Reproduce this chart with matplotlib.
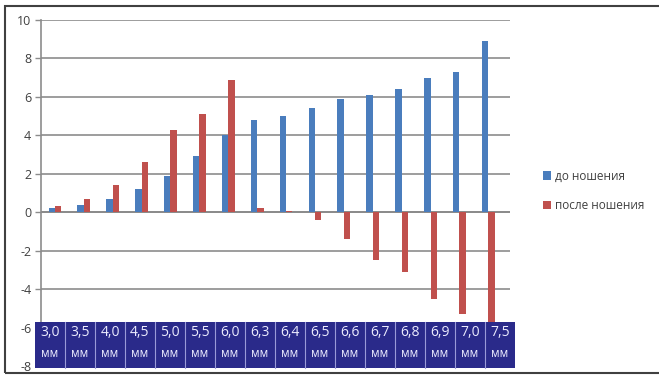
import numpy as np
import matplotlib
matplotlib.use('Agg')
import matplotlib.pyplot as plt
from matplotlib.patches import Rectangle

plt.rcParams['font.family'] = ['Open Sans', 'DejaVu Sans']
plt.rcParams['axes.unicode_minus'] = False

sizes = ['3,0', '3,5', '4,0', '4,5', '5,0', '5,5', '6,0', '6,3',
         '6,4', '6,5', '6,6', '6,7', '6,8', '6,9', '7,0', '7,5']
unit = 'мм'
before = [0.2, 0.4, 0.7, 1.2, 1.9, 2.9, 4.0, 4.8,
          5.0, 5.4, 5.9, 6.1, 6.4, 7.0, 7.3, 8.9]
after = [0.3, 0.7, 1.4, 2.6, 4.3, 5.1, 6.9, 0.2,
         0.05, -0.4, -1.4, -2.5, -3.1, -4.5, -5.3, -5.9]
labels = ['до ношения', 'после ношения']
yticks = [-8, -6, -4, -2, 0, 2, 4, 6, 8, 10]

blue = '#4a7dbd'
red = '#c0504d'
navy = '#2a2a8a'

fig = plt.figure(figsize=(6.59, 3.76), dpi=100)
ax = fig.add_axes([41/659, 1-366/376, 469/659, 346/376])

x = np.arange(len(sizes))
w = 0.22
ax.bar(x - 0.11, before, w, color=blue, label=labels[0], zorder=3)
ax.bar(x + 0.11, after, w, color=red, label=labels[1], zorder=3)

ax.set_ylim(-8, 10)
ax.set_xlim(-0.48, 15.75)
ax.set_yticks(yticks)
ax.set_xticks([])
ax.yaxis.grid(True, color='#8c8c8c', lw=1.2, zorder=0)
ax.axhline(0, color='#8c8c8c', lw=1.4, zorder=2)
for s in ['top', 'right', 'bottom']:
    ax.spines[s].set_visible(False)
ax.spines['left'].set_color('#8c8c8c')
ax.spines['left'].set_linewidth(1.2)
ax.tick_params(axis='y', length=4, width=1, color='#8c8c8c',
               labelsize=9, labelcolor='#404040', pad=3)

# category table at the bottom
tx0, tx1 = -6/469, 474/469
ty0, ty1 = -0.005, 0.128
ax.add_patch(Rectangle((tx0, ty0), tx1 - tx0, ty1 - ty0, transform=ax.transAxes,
                       facecolor=navy, edgecolor='none', clip_on=False, zorder=5))
cw = (tx1 - tx0) / len(sizes)
for i, s in enumerate(sizes):
    cx = tx0 + cw * (i + 0.5)
    if i > 0:
        ax.plot([tx0 + cw * i] * 2, [ty0, ty1], transform=ax.transAxes,
                color='#9a9ad8', lw=0.8, clip_on=False, zorder=6)
    ax.text(cx, ty0 + (ty1 - ty0) * 0.76, s, transform=ax.transAxes,
            ha='center', va='center', fontsize=10, color='#ececff', zorder=7)
    ax.text(cx, ty0 + (ty1 - ty0) * 0.30, unit, transform=ax.transAxes,
            ha='center', va='center', fontsize=8.5, color='#ececff', zorder=7)

ax.legend(loc='center left', bbox_to_anchor=(537/659, 1-191/376),
          bbox_transform=fig.transFigure, frameon=False, fontsize=8.5,
          handlelength=0.7, handleheight=0.7, handletextpad=0.3,
          labelspacing=1.4, borderpad=0, labelcolor='#404040')

# outer frame
fig.add_artist(Rectangle((5/659, 1-372.5/376), 1.0, (372.5-6)/376,
                         transform=fig.transFigure, facecolor='none',
                         edgecolor='#404040', lw=1.5))

fig.savefig('out.png', dpi=100)
